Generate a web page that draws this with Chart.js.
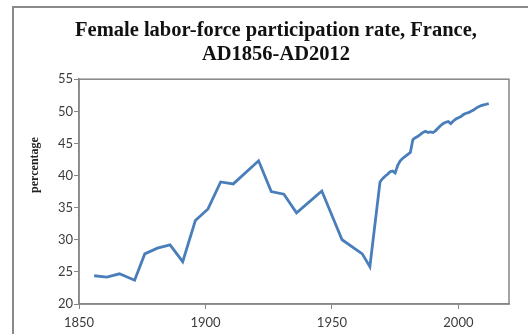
<!DOCTYPE html>
<html>
<head>
<meta charset="utf-8">
<script src="https://cdn.jsdelivr.net/npm/chart.js@4.4.1/dist/chart.umd.min.js"></script>
<style>
    html, body { margin: 0; padding: 0; background: #fff; overflow: hidden; }
    #frame {
        position: absolute; left: 12px; top: 6px;
        width: 600px; height: 400px;
        border: 2px solid #8a8a8a;
    }
    #wrap { position: absolute; left: 0; top: 0; width: 528px; height: 334px; }
</style>
</head>
<body>
<div id="frame"></div>
<div id="wrap"><canvas id="laborChart" width="528" height="334"></canvas></div>
<script>
// Female labour-force participation, France (percent)
const years = [
    1856, 1861, 1866, 1872, 1876, 1881, 1886, 1891, 1896, 1901,
    1906, 1911, 1921, 1926, 1931, 1936, 1946, 1954, 1962, 1965,
    1969, 1970, 1971, 1972, 1973, 1974, 1975, 1976, 1977, 1978,
    1979, 1980, 1981, 1982, 1983, 1984, 1985, 1986, 1987, 1988,
    1989, 1990, 1991, 1992, 1993, 1994, 1995, 1996, 1997, 1998,
    1999, 2000, 2001, 2002, 2003, 2004, 2005, 2006, 2007, 2008,
    2009, 2010, 2011, 2012
];
const rates = [
    24.4, 24.2, 24.7, 23.7, 27.8, 28.7, 29.2, 26.6, 33.0, 34.8,
    39.0, 38.7, 42.3, 37.5, 37.1, 34.2, 37.6, 30.0, 27.8, 25.8,
    39.0, 39.5, 39.9, 40.2, 40.6, 40.7, 40.4, 41.6, 42.3, 42.7,
    43.0, 43.3, 43.6, 45.6, 45.9, 46.1, 46.4, 46.7, 46.9, 46.7,
    46.8, 46.7, 47.0, 47.4, 47.8, 48.1, 48.3, 48.4, 48.1, 48.5,
    48.8, 49.0, 49.2, 49.5, 49.7, 49.8, 50.0, 50.2, 50.5, 50.7,
    50.9, 51.0, 51.1, 51.2
];
const xTicks = [1850, 1900, 1950, 2000];
const yRange = [20, 55];

const axisGray = '#868686';
const labelColor = '#3c3c3c';

// frame around the plot area plus the rotated axis caption
const plotFrame = {
    id: 'plotFrame',
    afterDraw(chart) {
        const { ctx, chartArea: a } = chart;
        ctx.save();
        ctx.strokeStyle = axisGray;
        ctx.lineWidth = 1.5;
        ctx.strokeRect(a.left, a.top, a.right - a.left, a.bottom - a.top);

        ctx.translate(35, 165);
        ctx.rotate(-Math.PI / 2);
        ctx.fillStyle = '#222';
        ctx.font = 'bold 12px "Liberation Serif", serif';
        ctx.textAlign = 'center';
        ctx.textBaseline = 'middle';
        ctx.fillText('percentage', 0, 0);
        ctx.restore();
    }
};

new Chart(document.getElementById('laborChart'), {
    type: 'line',
    data: {
        datasets: [{
            label: 'Female participation',
            data: years.map((y, i) => ({ x: y, y: rates[i] })),
            borderColor: '#4A7EBB',
            borderWidth: 2.8,
            pointRadius: 0,
            tension: 0,
            fill: false
        }]
    },
    options: {
        responsive: false,
        animation: false,
        layout: { padding: { left: 43, right: 19, top: 0, bottom: 0 } },
        plugins: {
            legend: { display: false },
            tooltip: { enabled: false },
            title: {
                display: true,
                text: ['Female labor-force participation rate, France,', 'AD1856-AD2012'],
                color: '#111',
                font: { family: '"Liberation Serif", serif', size: 20.5, weight: 'bold', lineHeight: 1.2 },
                padding: { top: 18, bottom: 12 }
            }
        },
        scales: {
            x: {
                type: 'linear',
                min: xTicks[0],
                max: 2020,
                afterBuildTicks: s => { s.ticks = xTicks.map(v => ({ value: v })); },
                afterFit: s => { s.height = 30; },
                grid: { display: true, drawOnChartArea: false, color: axisGray, tickLength: 5 },
                border: { color: axisGray, width: 1.5 },
                ticks: {
                    color: labelColor,
                    padding: 6,
                    maxRotation: 0,
                    callback: v => String(v),
                    font: { family: 'Lato, sans-serif', size: 13 }
                }
            },
            y: {
                min: yRange[0],
                max: yRange[1],
                afterFit: s => { s.width = 36; },
                grid: { display: true, drawOnChartArea: false, color: axisGray, tickLength: 5 },
                border: { color: axisGray, width: 1.5 },
                ticks: {
                    stepSize: 5,
                    color: labelColor,
                    padding: 1,
                    font: { family: 'Lato, sans-serif', size: 13 }
                }
            }
        }
    },
    plugins: [plotFrame]
});
</script>
</body>
</html>
